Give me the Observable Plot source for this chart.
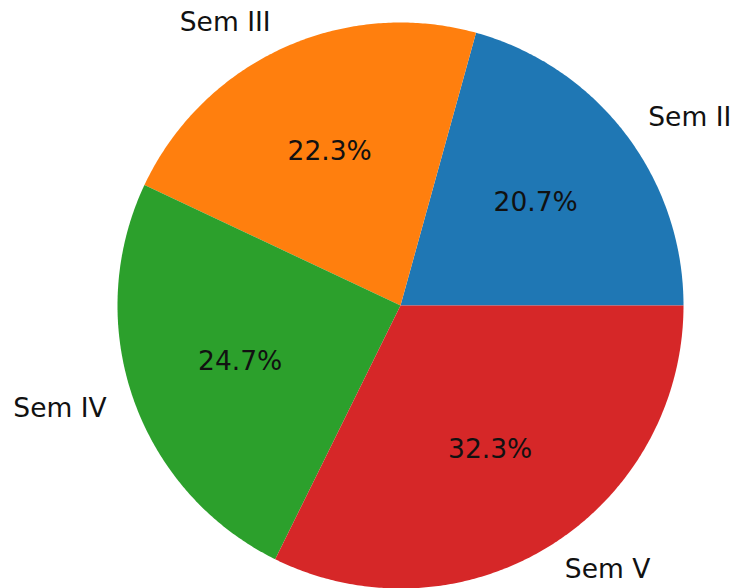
<!DOCTYPE html>
<html><head><meta charset="utf-8">
<script src="https://cdn.jsdelivr.net/npm/d3@7"></script>
<script src="https://cdn.jsdelivr.net/npm/@observablehq/plot@0.6"></script>
<style>body{margin:0;background:#fff}</style>
</head><body><div id="chart"></div>
<script>
const labels = ["Sem II", "Sem III", "Sem IV", "Sem V"];
const shares = [20.7, 22.3, 24.7, 32.3];
const colors = ["#1f77b4", "#ff7f0e", "#2ca02c", "#d62728"];

const total = d3.sum(shares);
let acc = 0;
const slices = labels.map((label, i) => {
  const a0 = acc / total * 2 * Math.PI;
  acc += shares[i];
  const a1 = acc / total * 2 * Math.PI;
  return {label, value: shares[i], color: colors[i], a0, a1, mid: (a0 + a1) / 2};
});

// polygon outline per slice (unit radius), counterclockwise from east
const outline = slices.flatMap(s => {
  const n = Math.max(2, Math.ceil((s.a1 - s.a0) / (Math.PI / 360)));
  const pts = [{label: s.label, x: 0, y: 0}];
  for (let k = 0; k <= n; k++) {
    const a = s.a0 + (s.a1 - s.a0) * k / n;
    pts.push({label: s.label, x: Math.cos(a), y: Math.sin(a)});
  }
  pts.push({label: s.label, x: 0, y: 0});
  return pts;
});

const outer = slices.map(s => ({label: s.label, x: 1.1 * Math.cos(s.mid), y: 1.1 * Math.sin(s.mid)}));
const inner = slices.map(s => ({text: s.value.toFixed(1) + "%", x: 0.6 * Math.cos(s.mid), y: 0.6 * Math.sin(s.mid)}));

const W = 733, H = 588, cx = 400, cy = 305, R = 283;
const font = "DejaVu Sans, sans-serif";

const chart = Plot.plot({
  width: W, height: H,
  margin: 0,
  x: {domain: [-cx / R, (W - cx) / R], axis: null},
  y: {domain: [-(H - cy) / R, cy / R], axis: null},
  style: {fontFamily: font, background: "white"},
  marks: [
    ...slices.map(s => Plot.line(outline.filter(d => d.label === s.label), {x: "x", y: "y", fill: s.color, stroke: "none", curve: "linear"})),
    Plot.text(outer.filter(d => d.x > 0), {x: "x", y: "y", text: "label", textAnchor: "start", fontSize: 26.5, fill: "#111"}),
    Plot.text(outer.filter(d => d.x <= 0), {x: "x", y: "y", text: "label", textAnchor: "end", fontSize: 26.5, fill: "#111"}),
    Plot.text(inner, {x: "x", y: "y", text: "text", fontSize: 26.5, fill: "#111"})
  ]
});
document.getElementById("chart").append(chart);
</script></body></html>
